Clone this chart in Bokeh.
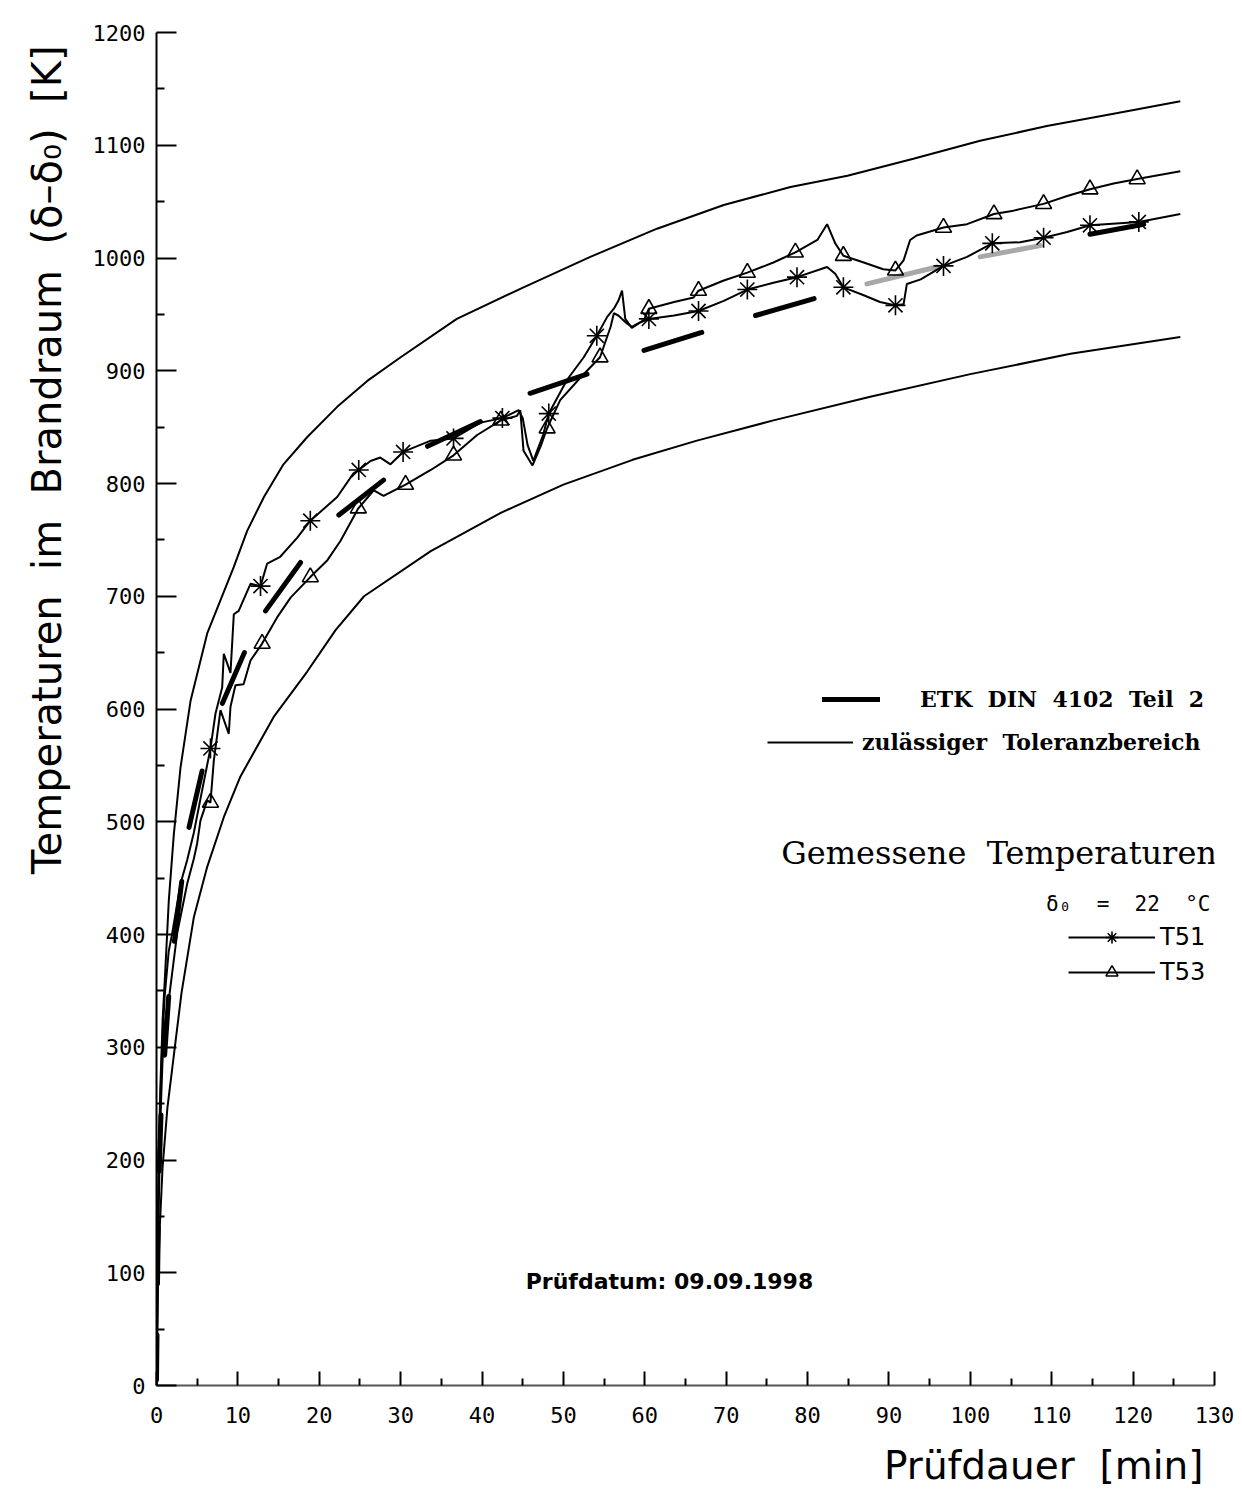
from bokeh.plotting import figure
from bokeh.models import (Range1d, FixedTicker, Label, Legend, LegendItem,
                          ColumnDataSource, Title)
from bokeh.embed import file_html
from bokeh.resources import INLINE

# ---------------- data ----------------
x_ticks = [0, 10, 20, 30, 40, 50, 60, 70, 80, 90, 100, 110, 120, 130]
x_minor = [5, 15, 25, 35, 45, 55, 65, 75, 85, 95, 105, 115, 125]
y_ticks = [0, 100, 200, 300, 400, 500, 600, 700, 800, 900, 1000, 1100, 1200]
y_minor = [50, 150, 250, 350, 450, 550, 650, 750, 850, 950, 1050, 1150]

# upper tolerance limit (min, K)
tol_up_t = [0, 0.12, 0.25, 0.5, 0.75, 1.1, 1.51, 2.13, 2.95, 4.18, 6.23, 9.5,
            11.14, 13.2, 15.6, 18.5, 22.2, 25.9, 30.0, 36.9, 45.1, 53.3, 61.5,
            69.7, 77.9, 84.9, 93.0, 101.2, 109.4, 117.6, 125.8]
tol_up_v = [0, 120, 200, 270, 324, 371, 430, 489, 548, 607, 667, 726,
            758, 788, 817, 841, 868, 891, 912, 946, 974, 1001, 1026,
            1047, 1063, 1073, 1088, 1104, 1117, 1128, 1139]

# lower tolerance limit
tol_lo_t = [0, 0.12, 0.37, 0.74, 1.35, 2.2, 3.07, 4.58, 6.23, 8.27, 10.3, 14.4,
            18.5, 22.0, 25.5, 33.7, 42.3, 50.0, 58.5, 66.4, 75.8, 87.7, 100.0,
            112.3, 125.8]
tol_lo_v = [0, 75, 135, 193, 247, 297, 348, 415, 460, 504, 540, 593,
            633, 670, 700, 740, 774, 799, 821, 838, 856, 877, 897,
            915, 930]

# ETK (DIN 4102 Teil 2) - visible dashes: start/end time and value
etk_t0 = [0.0, 0.12, 0.33, 1.0, 2.2, 4.0, 8.1, 13.4, 22.4, 33.3, 45.9, 59.9, 73.6, 87.3, 101.2, 114.7]
etk_v0 = [5, 90, 190, 293, 394, 495, 605, 687, 772, 833, 880, 918, 949, 977, 1001, 1021]
etk_t1 = [0.06, 0.22, 0.55, 1.5, 3.1, 5.6, 10.8, 17.7, 27.9, 39.8, 52.9, 67.0, 80.8, 95.9, 108.6, 121.3]
etk_v1 = [45, 140, 240, 345, 447, 545, 650, 730, 803, 855, 897, 934, 964, 992, 1011, 1030]
etk_faded = [False] * 13 + [True, True, False]

# measured T51
t51_t = [0, 0.1, 0.25, 0.5, 0.75, 1.0, 1.5, 1.93, 2.95, 3.77, 4.58, 5.61, 6.63,
         7.25, 8.07, 8.27, 9.09, 9.5, 10.1, 11.55, 12.78, 13.6, 15.2, 17.3, 18.9,
         22.2, 24.2, 24.85, 26.3, 27.5, 28.75, 30.3, 33.7, 36.5, 39.8, 42.5,
         44.5, 45.0, 45.6, 46.3, 47.5, 48.2, 50.45, 52.5, 54.1, 55.4, 56.2,
         56.75, 57.2, 57.6, 58.4, 59.5, 60.5, 63.6, 66.6, 69.7, 72.6, 75.8,
         78.7, 82.4, 83.4, 84.4, 86.9, 88.9, 90.8, 91.8, 92.2, 93.9, 96.7,
         99.6, 102.7, 106.1, 109.0, 111.9, 114.7, 120.7, 125.8]
t51_v = [10, 60, 170, 260, 310, 345, 385, 401, 445, 466, 490, 528, 565,
         596, 619, 649, 632, 684, 687, 711, 709, 729, 735, 752, 767,
         788, 809, 812, 820, 823, 817, 828, 838, 840, 854, 858,
         865, 858, 834, 820, 843, 862, 892, 912, 931, 948, 955,
         962, 971, 946, 938, 943, 946, 949, 953, 962, 972, 978,
         983, 992, 986, 974, 967, 961, 958, 959, 977, 981, 993,
         1001, 1013, 1014, 1018, 1023, 1029, 1032, 1039]
t51_mark_t = [6.63, 12.78, 18.9, 24.85, 30.3, 36.5, 42.5, 48.2, 54.1, 60.5, 66.6,
              72.6, 78.7, 84.4, 90.8, 96.7, 102.7, 109.0, 114.7, 120.7]
t51_mark_v = [565, 709, 767, 812, 828, 840, 858, 862, 931, 946, 953,
              972, 983, 974, 958, 993, 1013, 1018, 1029, 1032]

# measured T53
t53_t = [0, 0.1, 0.25, 0.5, 0.75, 1.0, 1.51, 2.54, 3.77, 4.58, 5.0, 5.4, 6.23,
         6.63, 7.04, 7.86, 8.88, 9.09, 9.7, 10.7, 11.55, 12.98, 14.8, 16.5,
         18.9, 21.0, 22.6, 24.8, 26.7, 27.9, 30.6, 33.7, 36.5, 39.4, 42.3,
         44.3, 44.7, 45.1, 46.2, 47.2, 48.0, 49.6, 52.1, 54.5, 55.8, 56.2,
         56.75, 57.8, 58.4, 59.9, 60.5, 63.6, 66.0, 66.6, 69.7, 72.6, 75.8,
         78.5, 81.2, 82.4, 83.4, 84.4, 86.9, 89.3, 90.8, 91.8, 92.6, 93.4,
         96.7, 99.6, 102.9, 105.3, 109.0, 111.9, 114.7, 117.6, 120.5, 125.8]
t53_v = [5, 50, 150, 240, 290, 320, 342, 401, 445, 467, 481, 501, 519,
         517, 554, 599, 578, 602, 621, 622, 643, 658, 681, 699,
         717, 732, 749, 778, 794, 789, 799, 812, 825, 843, 856,
         860, 865, 829, 816, 833, 849, 874, 894, 912, 939, 951,
         949, 942, 939, 945, 955, 961, 965, 971, 980, 987, 996,
         1005, 1016, 1030, 1013, 1002, 996, 990, 989, 998, 1016, 1020,
         1027, 1030, 1039, 1042, 1048, 1055, 1061, 1066, 1070, 1077]
t53_mark_t = [6.63, 12.98, 18.9, 24.8, 30.6, 36.5, 42.3, 48.0, 54.5, 60.5, 66.6,
              72.6, 78.5, 84.4, 90.8, 96.7, 102.9, 109.0, 114.7, 120.5]
t53_mark_v = [517, 658, 717, 778, 799, 825, 856, 849, 912, 955, 971,
              987, 1005, 1002, 989, 1027, 1039, 1048, 1061, 1070]

# texts (non-breaking spaces keep the wide word gaps of the original)
S = "\u00a0 "
y_title = "Temperaturen" + S + "im" + S + "Brandraum" + S + "(\u03b4\u2013\u03b4\u2080)" + S + "[K]"
x_title = "Pr\u00fcfdauer" + S + "[min]"
date_text = "Pr\u00fcfdatum:  09.09.1998"
etk_label = "ETK" + S + "DIN" + S + "4102" + S + "Teil" + S + "2"
tol_label = "zul\u00e4ssiger" + S + "Toleranzbereich"
meas_title = "Gemessene" + S + "Temperaturen"
delta0_text = "\u03b4\u2080" + S + "=" + S + "22" + S + "\u00b0C"
t51_label = "T51"
t53_label = "T53"

# ---------------- figure ----------------
p = figure(width=1236, height=1502, x_range=Range1d(0, 130), y_range=Range1d(0, 1200),
           output_backend="svg", toolbar_location=None,
           min_border_left=156, min_border_right=22, min_border_top=32,
           min_border_bottom=117)
p.background_fill_color = "white"
p.border_fill_color = "white"
p.outline_line_color = None
p.grid.visible = False

xa = p.xaxis[0]
xa.ticker = FixedTicker(ticks=x_ticks, minor_ticks=x_minor)
xa.axis_line_width = 2
xa.axis_line_color = "#555555"
xa.major_tick_in = 14
xa.major_tick_out = 0
xa.minor_tick_in = 7
xa.minor_tick_out = 0
xa.major_tick_line_width = 2
xa.minor_tick_line_width = 2
xa.major_tick_line_color = "black"
xa.minor_tick_line_color = "black"
xa.major_label_text_font = "DejaVu Sans Mono"
xa.major_label_text_font_size = "22px"
xa.major_label_text_color = "black"
xa.major_label_standoff = 21

ya = p.yaxis[0]
ya.ticker = FixedTicker(ticks=y_ticks, minor_ticks=y_minor)
ya.axis_line_width = 2
ya.axis_line_color = "black"
ya.major_tick_in = 20
ya.major_tick_out = 0
ya.minor_tick_in = 8
ya.minor_tick_out = 0
ya.major_tick_line_width = 2
ya.minor_tick_line_width = 2
ya.major_tick_line_color = "black"
ya.minor_tick_line_color = "black"
ya.major_label_text_font = "DejaVu Sans Mono"
ya.major_label_text_font_size = "22px"
ya.major_label_text_color = "black"
ya.major_label_standoff = 11

# axis titles placed in the side panels
ytitle = Title(text=y_title, align="right", offset=13, text_font="DejaVu Sans",
               text_font_size="40px", text_font_style="normal", text_color="black")
xtitle = Title(text=x_title, align="right", offset=11, text_font="DejaVu Sans",
               text_font_size="39px", text_font_style="normal", text_color="black")
if "standoff" in Title.properties():
    ytitle.standoff = 40
    xtitle.standoff = 30
p.add_layout(ytitle, "left")
p.add_layout(xtitle, "below")

# tolerance band
tol_up = p.line(tol_up_t, tol_up_v, line_color="black", line_width=2)
p.line(tol_lo_t, tol_lo_v, line_color="black", line_width=2)

# ETK dashes
etk_src_dark = ColumnDataSource(dict(
    x0=[a for a, f in zip(etk_t0, etk_faded) if not f],
    y0=[a for a, f in zip(etk_v0, etk_faded) if not f],
    x1=[a for a, f in zip(etk_t1, etk_faded) if not f],
    y1=[a for a, f in zip(etk_v1, etk_faded) if not f]))
etk_src_faded = ColumnDataSource(dict(
    x0=[a for a, f in zip(etk_t0, etk_faded) if f],
    y0=[a for a, f in zip(etk_v0, etk_faded) if f],
    x1=[a for a, f in zip(etk_t1, etk_faded) if f],
    y1=[a for a, f in zip(etk_v1, etk_faded) if f]))
etk_r = p.segment("x0", "y0", "x1", "y1", source=etk_src_dark, line_color="black",
                  line_width=5, line_cap="round")
p.segment("x0", "y0", "x1", "y1", source=etk_src_faded, line_color="#a8a8a8",
          line_width=5, line_cap="round")

# measured curves
t51_line = p.line(t51_t, t51_v, line_color="black", line_width=2)
t51_pts = p.scatter(t51_mark_t, t51_mark_v, marker="asterisk", size=20,
                    line_color="black", line_width=1.6)
t53_line = p.line(t53_t, t53_v, line_color="black", line_width=2)
t53_pts = p.scatter(t53_mark_t, t53_mark_v, marker="triangle", size=16,
                    line_color="black", fill_color=None, line_width=1.6)

# legends
common = dict(padding=0, margin=0, border_line_color=None, background_fill_alpha=0,
              orientation="vertical", label_text_color="black")
leg_etk = Legend(items=[LegendItem(label=etk_label, renderers=[etk_r])],
                 location=(666, 671), glyph_width=58, glyph_height=30, label_height=30,
                 label_standoff=40, label_text_font="DejaVu Serif",
                 label_text_font_size="22px", label_text_font_style="bold", **common)
leg_tol = Legend(items=[LegendItem(label=tol_label, renderers=[tol_up])],
                 location=(611, 628), glyph_width=86, glyph_height=30, label_height=30,
                 label_standoff=9, label_text_font="DejaVu Serif",
                 label_text_font_size="22px", label_text_font_style="bold", **common)
leg_meas = Legend(items=[LegendItem(label=t51_label, renderers=[t51_line, t51_pts]),
                         LegendItem(label=t53_label, renderers=[t53_line, t53_pts])],
                  location=(912, 398), glyph_width=87, glyph_height=30, label_height=30,
                  spacing=5, label_standoff=5, label_text_font="DejaVu Sans",
                  label_text_font_size="24px", **common)
for lg in (leg_etk, leg_tol, leg_meas):
    p.add_layout(lg)

# texts inside the frame
p.add_layout(Label(x=130.3, y=472, text=meas_title, text_align="right",
                   text_baseline="middle", text_font="DejaVu Serif",
                   text_font_size="32px", text_color="black"))
p.add_layout(Label(x=129.5, y=427, text=delta0_text, text_align="right",
                   text_baseline="middle", text_font="DejaVu Sans Mono",
                   text_font_size="21px", text_color="black"))
p.add_layout(Label(x=63.5, y=92, text=date_text, text_align="center",
                   text_baseline="middle", text_font="DejaVu Sans",
                   text_font_size="22px", text_font_style="bold", text_color="black"))

open("out.html", "w").write(file_html(p, INLINE))
